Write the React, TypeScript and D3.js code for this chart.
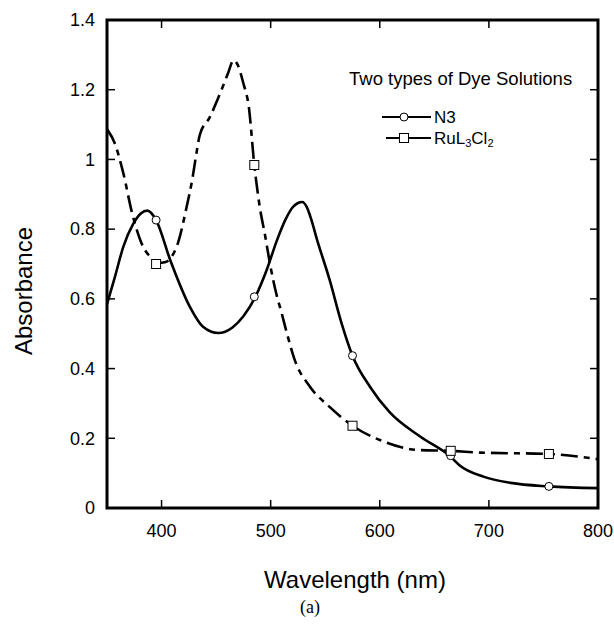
import React from "react";
import * as d3 from "d3";

const n3Wavelength = [350, 357, 365, 374, 381, 387, 395, 408, 426, 438, 452, 465, 475, 486, 496, 506, 514, 520, 525, 529, 533, 537, 542, 554, 565, 575, 591, 609, 637, 665, 673, 695, 720, 755, 800];
const n3Absorbance = [0.585, 0.66, 0.75, 0.815, 0.845, 0.853, 0.826, 0.711, 0.577, 0.52, 0.502, 0.518, 0.55, 0.606, 0.68, 0.77, 0.83, 0.862, 0.875, 0.878, 0.864, 0.83, 0.775, 0.655, 0.53, 0.437, 0.348, 0.275, 0.205, 0.147, 0.123, 0.09, 0.072, 0.062, 0.057];

const ruWavelength = [350, 357, 365, 373, 383, 391, 397, 403, 409, 415, 423, 428, 432, 435, 444, 455, 461, 466, 470, 475, 480, 485, 490, 495, 500, 505, 510, 515, 522, 536, 554, 575, 600, 637, 665, 692, 755, 800];
const ruAbsorbance = [1.087, 1.047, 0.96, 0.846, 0.75, 0.717, 0.703, 0.705, 0.72, 0.76, 0.864, 0.94, 1.018, 1.07, 1.12, 1.2, 1.248, 1.285, 1.27, 1.218, 1.15, 0.984, 0.864, 0.78, 0.69, 0.617, 0.56, 0.5, 0.425, 0.348, 0.29, 0.236, 0.195, 0.166, 0.164, 0.159, 0.155, 0.14];

const markerWavelength = [395, 485, 575, 665, 755];
const n3Markers = [0.826, 0.606, 0.437, 0.15, 0.062];
const ruMarkers = [0.70, 0.984, 0.236, 0.164, 0.155];

const xTicks = [400, 500, 600, 700, 800];
const yTicks = [0, 0.2, 0.4, 0.6, 0.8, 1, 1.2, 1.4];

const W = 614;
const H = 628;
const left = 107, right = 598, top = 20, bottom = 508;
const FONT = "'Liberation Sans', Arial, Helvetica, sans-serif";

export default function App() {
  const x = d3.scaleLinear().domain([350, 800]).range([left, right]);
  const y = d3.scaleLinear().domain([0, 1.4]).range([bottom, top]);
  const line = d3
    .line<[number, number]>()
    .x((d) => x(d[0]))
    .y((d) => y(d[1]))
    .curve(d3.curveMonotoneX);
  const n3Path = line(n3Wavelength.map((w, i) => [w, n3Absorbance[i]]));
  const ruPath = line(ruWavelength.map((w, i) => [w, ruAbsorbance[i]]));
  const tickLen = 8;
  const dash = "17,6,6,6";

  return (
    <svg
      width={W}
      height={H}
      style={{ position: "absolute", left: 0, top: 0, background: "#fff" }}
      fontFamily={FONT}
    >
      <rect x={0} y={0} width={W} height={H} fill="#fff" />
      <defs>
        <clipPath id="plot">
          <rect x={left} y={top} width={right - left} height={bottom - top} />
        </clipPath>
      </defs>

      <g clipPath="url(#plot)">
        <path d={ruPath || ""} fill="none" stroke="#000" strokeWidth={2.6} strokeDasharray={dash} />
        <path d={n3Path || ""} fill="none" stroke="#000" strokeWidth={2.6} />
      </g>

      {markerWavelength.map((w, i) => (
        <circle key={"c" + i} cx={x(w)} cy={y(n3Markers[i])} r={4} fill="#fff" stroke="#000" strokeWidth={1} />
      ))}
      {markerWavelength.map((w, i) => (
        <rect key={"s" + i} x={x(w) - 4.5} y={y(ruMarkers[i]) - 4.5} width={9} height={9} fill="#fff" stroke="#000" strokeWidth={1} />
      ))}

      {xTicks.map((t) => (
        <g key={"xt" + t}>
          <line x1={x(t)} x2={x(t)} y1={bottom} y2={bottom - tickLen} stroke="#000" strokeWidth={1.5} />
          <line x1={x(t)} x2={x(t)} y1={top} y2={top + tickLen} stroke="#000" strokeWidth={1.5} />
          <text x={x(t)} y={537} fontSize={18} textAnchor="middle">{t}</text>
        </g>
      ))}
      {yTicks.map((t) => (
        <g key={"yt" + t}>
          <line x1={left} x2={left + tickLen} y1={y(t)} y2={y(t)} stroke="#000" strokeWidth={1.5} />
          <line x1={right} x2={right - tickLen} y1={y(t)} y2={y(t)} stroke="#000" strokeWidth={1.5} />
          <text x={95} y={y(t)} dy="0.35em" fontSize={18} textAnchor="end">{String(t)}</text>
        </g>
      ))}

      <rect x={left} y={top} width={right - left} height={bottom - top} fill="none" stroke="#000" strokeWidth={3} />

      <text x={355} y={588} fontSize={24} textAnchor="middle">Wavelength (nm)</text>
      <text transform="translate(32,291) rotate(-90)" fontSize={24} textAnchor="middle">Absorbance</text>
      <text x={310} y={613} fontSize={18} textAnchor="middle" fontFamily="'Liberation Serif', 'Times New Roman', serif">(a)</text>

      <text x={349} y={85} fontSize={18.5}>Two types of Dye Solutions</text>
      <line x1={382} x2={431} y1={117} y2={117} stroke="#000" strokeWidth={2} />
      <circle cx={404} cy={117} r={4} fill="#fff" stroke="#000" strokeWidth={1} />
      <text x={434} y={123} fontSize={17}>N3</text>
      <line x1={386} x2={431} y1={138} y2={138} stroke="#000" strokeWidth={2} />
      <rect x={399.5} y={133.5} width={9} height={9} fill="#fff" stroke="#000" strokeWidth={1} />
      <text x={434} y={144} fontSize={17}>
        RuL<tspan dy={3} fontSize={11}>3</tspan><tspan dy={-3}>Cl</tspan><tspan dy={3} fontSize={11}>2</tspan>
      </text>
    </svg>
  );
}
